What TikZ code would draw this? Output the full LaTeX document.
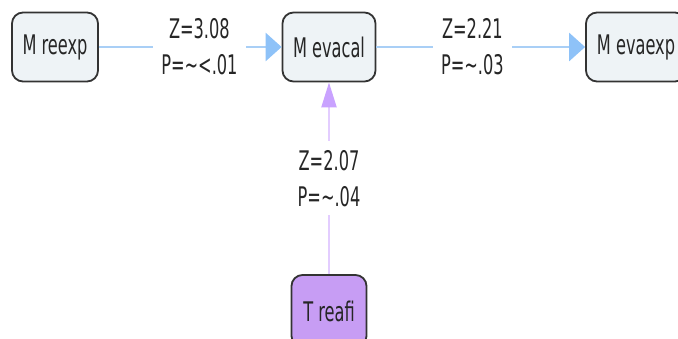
\documentclass[tikz,border=0pt]{standalone}
\usepackage{fontspec}
\setmainfont{DejaVu Sans}[FakeStretch=0.6]
\usetikzlibrary{arrows.meta}
\definecolor{boxfill}{HTML}{EEF3F6}
\definecolor{boxline}{HTML}{333333}
\definecolor{txt}{HTML}{262626}
\definecolor{blueline}{HTML}{A9CFF6}
\definecolor{bluehead}{HTML}{8EC2F8}
\definecolor{lilacline}{HTML}{E3CDFF}
\definecolor{lilachead}{HTML}{C9A2FF}
\definecolor{purplefill}{HTML}{C79DF4}
\begin{document}
\begin{tikzpicture}[x=1pt,y=-1pt,
  every node/.style={font=\fontsize{27}{36}\selectfont, text=txt},
  varbox/.style={draw=boxline, line width=1.8pt, rounded corners=11pt, fill=boxfill, inner sep=0pt, minimum height=69pt},
  stimbox/.style={varbox, fill=purplefill},
  hlink/.style={draw=blueline, line width=2.8pt, -{Triangle[length=16pt,width=28pt,color=bluehead]}},
  vlink/.style={draw=lilacline, line width=2.2pt, -{Triangle[length=25pt,width=15pt,color=lilachead]}},
  lab/.style={fill=white, inner xsep=8pt, inner ysep=6pt, align=center}]
\useasboundingbox (0,0) rectangle (678,338);
\node[varbox, minimum width=86pt] (reexp) at (55,47) {M reexp};
\node[varbox, minimum width=93pt] (evacal) at (329,47) {M evacal};
\node[varbox, minimum width=100pt] (evaexp) at (636,47) {M evaexp};
\node[stimbox, minimum width=75pt, minimum height=72pt] (reafi) at (329,311) {T reafi};
\draw[hlink] (reexp) -- node[lab, pos=0.55] (l1) {Z=3.08\\P=∼<.01} (evacal);
\draw[hlink] (evacal) -- node[lab, pos=0.46] (l2) {Z=2.21\\P=∼.03} (evaexp);
\draw[vlink] (reafi) -- node[lab, inner xsep=4pt, inner ysep=9pt] (l3) {Z=2.07\\P=∼.04} (evacal);
\end{tikzpicture}
\end{document}
